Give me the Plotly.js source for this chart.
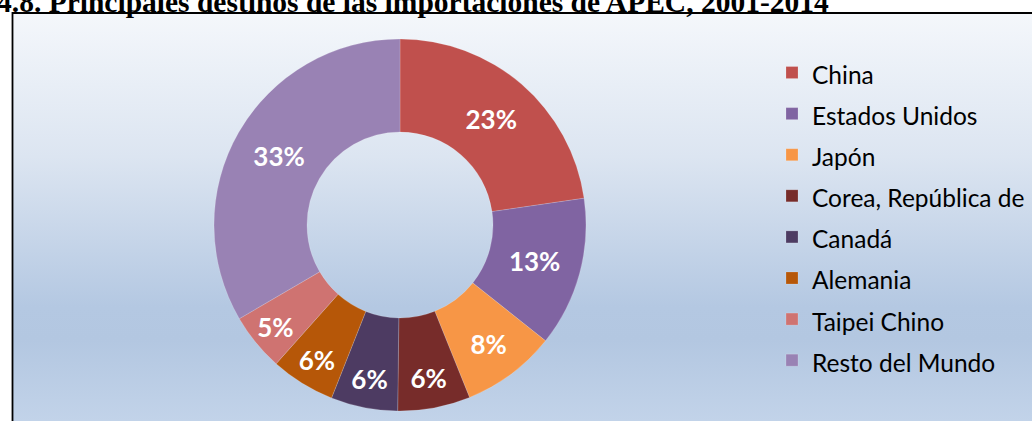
<!DOCTYPE html>
<html>
<head>
<meta charset="utf-8">
<script src="https://cdn.plot.ly/plotly-3.0.1.min.js"></script>
<style>
  html, body { margin: 0; padding: 0; background: #ffffff; }
  #wrap { position: relative; width: 1032px; height: 421px; overflow: hidden; }
  #bg { position: absolute; left: 13px; top: 14px; right: 0; bottom: 0;
        background: linear-gradient(to bottom, #F4F7FB 0%, #DCE5F1 35%, #B4C8E2 72%, #B3C7E1 80%, #C2D3E9 100%); }
  #chart { position: absolute; left: 0; top: 0; width: 1032px; height: 421px; }
</style>
</head>
<body>
<div id="wrap">
  <div id="bg"></div>
  <div id="chart"></div>
</div>
<script>
const categories = ["China", "Estados Unidos", "Japón", "Corea, República de", "Canadá", "Alemania", "Taipei Chino", "Resto del Mundo"];
const shares = [22.7, 13.0, 8.2, 6.3, 5.8, 5.6, 5.0, 33.4];
const colors = ["#C0504D", "#8064A2", "#F79646", "#772C2A", "#4D3B62", "#B65708", "#CF7371", "#9982B4"];
const titleText = "4.8. Principales destinos de las importaciones de APEC, 2001-2014";

const W = 1032, H = 421;
const cx = 400, cy = 225, R = 186;

const legendLabels = categories.map(c => '<span style="font-size:24.5px">' + c + '</span>');

const trace = {
  type: "pie",
  labels: legendLabels,
  values: shares,
  hole: 0.5,
  sort: false,
  direction: "clockwise",
  rotation: 0,
  marker: { colors: colors, line: { color: "rgba(255,255,255,0.35)", width: 0.5 } },
  texttemplate: "%{percent:.0%}",
  textposition: "inside",
  insidetextorientation: "horizontal",
  textfont: { family: "Lato, sans-serif", size: 26, color: "#ffffff", weight: "bold" },
  hoverinfo: "label+percent",
  domain: { x: [(cx - R) / W, (cx + R) / W], y: [1 - (cy + R) / H, 1 - (cy - R) / H] }
};

const layout = {
  width: W, height: H,
  margin: { l: 0, r: 0, t: 0, b: 0, autoexpand: false },
  paper_bgcolor: "rgba(0,0,0,0)",
  plot_bgcolor: "rgba(0,0,0,0)",
  showlegend: true,
  legend: {
    x: 772 / W, xanchor: "left",
    y: 1 - 47 / H, yanchor: "top",
    bgcolor: "rgba(0,0,0,0)",
    font: { family: "Lato, sans-serif", size: 29.3, color: "#000000" },
    traceorder: "normal"
  },
  shapes: [{
    type: "rect", xref: "paper", yref: "paper",
    x0: 12.5 / W, x1: 1.05, y0: 1 - 13 / H, y1: -0.05,
    line: { color: "#000000", width: 1.8 }, fillcolor: "rgba(0,0,0,0)"
  }],
  annotations: [{
    text: "<b>" + titleText + "</b>",
    xref: "paper", yref: "paper",
    x: -5 / W, xanchor: "left",
    y: 1 - 20 / H, yanchor: "bottom",
    showarrow: false,
    font: { family: "Liberation Serif, Times New Roman, serif", size: 29.5, color: "#000000" }
  }]
};

Plotly.newPlot("chart", [trace], layout, { displayModeBar: false, staticPlot: true });
</script>
</body>
</html>
